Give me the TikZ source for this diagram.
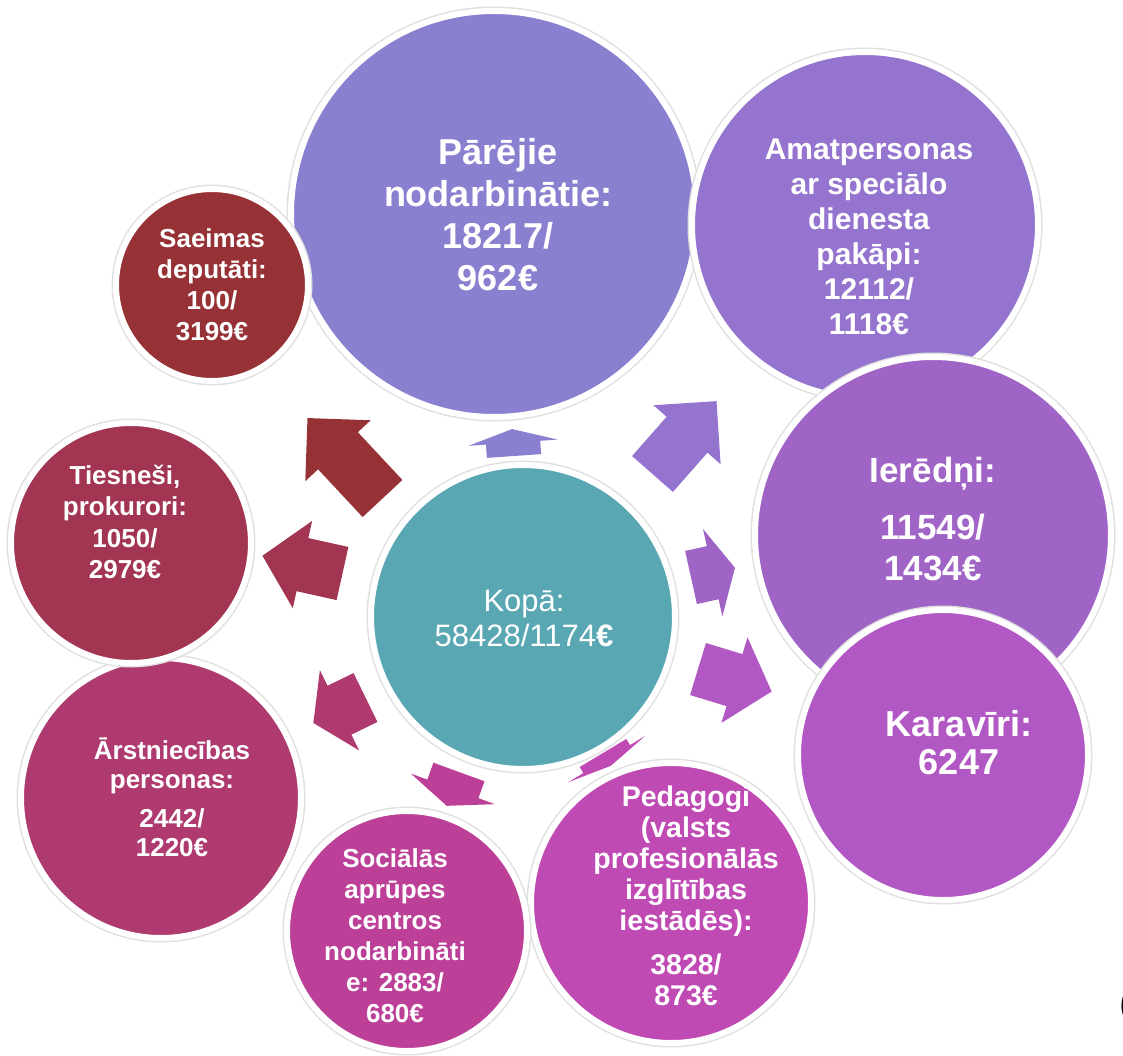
\documentclass[tikz,border=0pt]{standalone}
\usepackage{fontspec}
\setmainfont{Liberation Sans}
\usetikzlibrary{shapes.arrows}

\definecolor{c0}{HTML}{5AA7B4}
\definecolor{c1}{HTML}{8A80D0}
\definecolor{c2}{HTML}{9474CE}
\definecolor{c3}{HTML}{A064C6}
\definecolor{c4}{HTML}{B258C4}
\definecolor{c5}{HTML}{C04AB4}
\definecolor{c6}{HTML}{BC4098}
\definecolor{c7}{HTML}{AE3A70}
\definecolor{c8}{HTML}{A23652}
\definecolor{c9}{HTML}{963236}

\newcommand{\fs}[2]{\fontsize{#1}{#2}\selectfont}

\begin{document}
\begin{tikzpicture}
[x=1pt, y=-1pt,
 bubble/.style={circle, fill=#1, draw=white, line width=6pt, inner sep=0pt, preaction={draw=black!12, line width=9pt}},
 pfeil/.style={single arrow, fill=#1, draw=none, inner xsep=0pt, inner ysep=27pt, outer sep=0pt, single arrow head extend=17.5pt, anchor=tail},
 txt/.style={text=white, align=center, inner sep=0pt}]

\useasboundingbox (0,0) rectangle (1123,1056);
\clip (0,0) rectangle (1123,1056);

\node[pfeil=c1, minimum height=27pt, single arrow tip angle=146, rotate=94] (a1) at (514,456) {};
\node[pfeil=c2, minimum height=97pt, single arrow tip angle=90, rotate=48.7] (a2) at (652.5,474) {};
\node[pfeil=c3, minimum height=45pt, single arrow tip angle=126, rotate=12.5] (a3) at (691,577.5) {};
\node[pfeil=c4, minimum height=77pt, single arrow tip angle=98, rotate=-17] (a4) at (698,669) {};
\node[pfeil=c5, minimum height=15pt, single arrow tip angle=160, rotate=-59] (a5) at (603,753) {};
\node[pfeil=c6, minimum height=36pt, single arrow tip angle=136, rotate=-110] (a6) at (459,772) {};
\node[pfeil=c7, minimum height=58pt, single arrow tip angle=114, rotate=206] (a7) at (365.5,697.5) {};
\node[pfeil=c8, minimum height=82pt, single arrow tip angle=95, rotate=167.5] (a8) at (342.5,573.5) {};
\node[pfeil=c9, minimum height=110pt, single arrow tip angle=90, rotate=133] (a9) at (382.5,498.5) {};

\node[bubble=c1, minimum size=406pt] (1) at (494,214) {};
\node[bubble=c2, minimum size=346pt] (2) at (865,225) {};
\node[bubble=c3, minimum size=356pt] (3) at (933,535) {};
\node[bubble=c4, minimum size=290pt] (4) at (943,755) {};
\node[bubble=c5, minimum size=280pt] (5) at (671,903) {};
\node[bubble=c6, minimum size=240pt] (6) at (407,931) {};
\node[bubble=c7, minimum size=280pt] (7) at (161,798) {};
\node[bubble=c8, minimum size=240pt] (8) at (131,543) {};
\node[bubble=c9, minimum size=192pt] (9) at (212,285) {};
\node[bubble=c0, minimum size=304pt] (0) at (523,617) {};

\node[txt, font=\fs{31}{35}] (t0) at (524,618) {Kop\=a:\\58428/1174\textbf{€}};
\node[txt, font=\bfseries\fs{36}{42}] (t1) at (498,215) {Pārējie\\nodarbinātie:\\18217/\\962€};
\node[txt, font=\bfseries\fs{30}{35}] (t2) at (869,237) {Amatpersonas\\ar speciālo\\dienesta\\pakāpi:\\12112/\\1118€};
\node[txt, font=\bfseries\fs{35}{41}] (t3) at (933,519) {Ierēdņi:\\[16pt]11549/\\1434€};
\node[txt, font=\bfseries\fs{36}{38}] (t4) at (959,743) {Karavīri:\\6247};
\node[txt, font=\bfseries\fs{28.5}{31}] (t5) at (686,896) {Pedagogi\\(valsts\\profesionālās\\izglītības\\iestādēs):\\[13pt]3828/\\873€};
\node[txt, font=\bfseries\fs{26}{31}] (t6) at (395,936) {Sociālās\\aprūpes\\centros\\nodarbināti\\e: 2883/\\680€};
\node[txt, font=\bfseries\fs{26}{29}] (t7) at (172,797) {Ārstniecības\\personas:\\[10pt]2442/\\1220€};
\node[txt, font=\bfseries\fs{26}{31.5}] (t8) at (125,522) {Tiesneši,\\prokurori:\\1050/\\2979€};
\node[txt, font=\bfseries\fs{26}{31}] (t9) at (212,285) {Saeimas\\deputāti:\\100/\\3199€};

\node[anchor=west, inner sep=0pt, font=\fs{40}{40}] (p) at (1119,1006) {(};
\end{tikzpicture}
\end{document}
